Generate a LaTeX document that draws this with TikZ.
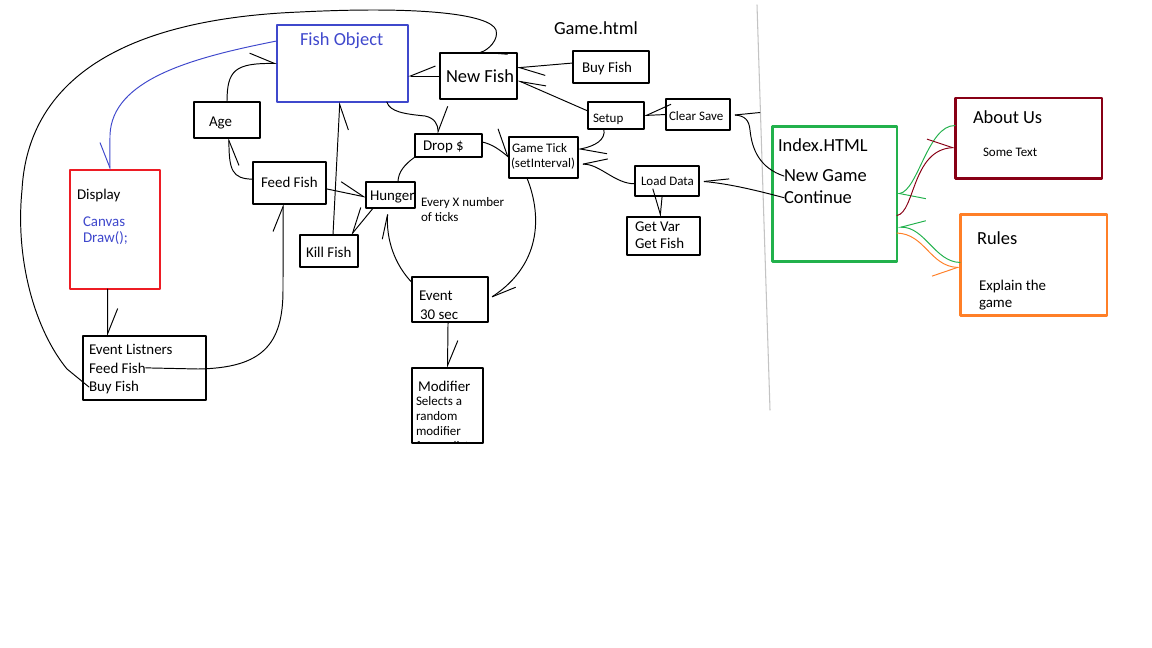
\documentclass[tikz,border=0pt]{standalone}
\usepackage{fontspec}
\setmainfont{Carlito}
\usetikzlibrary{arrows.meta}

\definecolor{paintblue}{RGB}{63,72,204}
\definecolor{paintred}{RGB}{237,28,36}
\definecolor{paintgreen}{RGB}{34,177,76}
\definecolor{paintmaroon}{RGB}{136,0,21}
\definecolor{paintorange}{RGB}{255,127,39}
\definecolor{paintgrey}{RGB}{195,195,195}

\newcommand{\sizeL}{\fontsize{10.5}{12}\selectfont}
\newcommand{\sizeM}{\fontsize{8.5}{10}\selectfont}
\newcommand{\sizeS}{\fontsize{7.4}{9}\selectfont}

\tikzset{
  box/.style={draw, rectangle, inner sep=0pt, outer sep=0pt, line width=0.6pt},
  thickbox/.style={box, line width=1.7pt},
  txt/.style={anchor=base west, inner sep=0pt, outer sep=0pt},
  wire/.style={line width=0.55pt},
  hand/.style={wire, -{Straight Barb[harpoon, length=0.5cm, width=#1]}},
  hand/.default=0.4cm,
  handr/.style={wire, -{Straight Barb[harpoon, swap, length=0.5cm, width=#1]}},
  handr/.default=0.4cm,
}

\begin{document}
\begin{tikzpicture}[x=0.02cm, y=-0.02cm, line cap=round, line join=round]
		\useasboundingbox (0,0) rectangle (1152,648);
		
		% boxes of Game.html
		\node[box, paintblue, minimum width=2.62cm, minimum height=1.54cm] (fish) at (342.5,63.5) {};
		\node[box, minimum width=1.54cm, minimum height=0.92cm] (newfish) at (478.5,76) {};
		\node[box, minimum width=1.52cm, minimum height=0.64cm] (buyfish) at (611,67) {};
		\node[box, minimum width=1.12cm, minimum height=0.54cm] (setup) at (616,115.5) {};
		\node[box, minimum width=1.28cm, minimum height=0.62cm] (clearsave) at (698,114.5) {};
		\node[box, minimum width=1.32cm, minimum height=0.72cm] (age) at (227,120) {};
		\node[box, minimum width=1.34cm, minimum height=0.46cm] (drop) at (448.5,145.5) {};
		\node[box, minimum width=1.38cm, minimum height=0.82cm] (tick) at (543.5,157.5) {};
		\node[box, minimum width=1.28cm, minimum height=0.60cm] (load) at (667,181) {};
		\node[box, minimum width=1.46cm, minimum height=0.76cm] (getvar) at (663.5,236) {};
		\node[box, minimum width=1.46cm, minimum height=0.84cm] (feed) at (289.5,183) {};
		\node[box, minimum width=0.98cm, minimum height=0.52cm] (hunger) at (390.5,195) {};
		\node[box, minimum width=1.16cm, minimum height=0.64cm] (kill) at (329,251) {};
		\node[box, minimum width=1.52cm, minimum height=0.90cm] (event) at (450,299.5) {};
		\node[box, minimum width=1.42cm, minimum height=1.50cm] (modifier) at (447.5,405.5) {};
		\node[box, paintred, minimum width=1.80cm, minimum height=2.38cm] (display) at (115,229.5) {};
		\node[box, minimum width=2.46cm, minimum height=1.28cm] (listen) at (144.5,368) {};
		
		% boxes of Index.HTML
		\node[thickbox, paintgreen, minimum width=2.50cm, minimum height=2.72cm] (index) at (834.5,194) {};
		\node[thickbox, paintmaroon, minimum width=2.94cm, minimum height=1.62cm] (about) at (1028.5,138.5) {};
		\node[thickbox, paintorange, minimum width=2.94cm, minimum height=2.04cm] (rules) at (1033.5,265) {};
		
		% texts
		\node[txt, font=\sizeL] (tgame) at (554,35) {Game.html};
		\node[txt, font=\sizeL, text=paintblue] (tfish) at (300,46) {Fish Object};
		\node[txt, font=\sizeL] (tnew) at (446,83) {New Fish};
		\node[txt, font=\sizeM] (tbuy) at (582,73) {Buy Fish};
		\node[txt, font=\sizeS] (tsetup) at (593,123) {Setup};
		\node[txt, font=\sizeS] (tclear) at (669,121) {Clear Save};
		\node[txt, font=\sizeM] (tage) at (209,127) {Age};
		\node[txt, font=\sizeM] (tdrop) at (423,151) {Drop \$};
		\node[txt, font=\sizeS] (ttick) at (512,153) {Game Tick};
		\node[txt, font=\sizeS] (tinterval) at (511,168) {(setInterval)};
		\node[txt, font=\sizeS] (tload) at (641,186) {Load Data};
		\node[txt, font=\sizeM] (tvar) at (635,232) {Get Var};
		\node[txt, font=\sizeM] (tgetfish) at (635,249) {Get Fish};
		\node[txt, font=\sizeM] (tfeed) at (261,188) {Feed Fish};
		\node[txt, font=\sizeM] (thunger) at (370,201) {Hunger};
		\node[txt, font=\sizeM] (tkill) at (306,258) {Kill Fish};
		\node[txt, font=\sizeS] (tevery) at (421,207) {Every X number};
		\node[txt, font=\sizeS] (tticks) at (421,222) {of ticks};
		\node[txt, font=\sizeM] (tevent) at (419,301) {Event};
		\node[txt, font=\sizeM] (tsec) at (420,319) {30 sec};
		\node[txt, font=\sizeM] (tmod) at (418,391) {Modifier};
		\node[txt, font=\sizeS] (tsel) at (416,405) {Selects a};
		\node[txt, font=\sizeS] (trandom) at (416,420) {random};
		\node[txt, font=\sizeS] (tmodifier) at (416,435) {modifier};
		\begin{scope}
			\clip (412,368) rectangle (483,443);
			\node[txt, font=\sizeS] (tfrom) at (416,450) {from a list};
		\end{scope}
		\node[txt, font=\sizeM] (tdisplay) at (77,200) {Display};
		\node[txt, font=\sizeM, text=paintblue] (tcanvas) at (83,227) {Canvas};
		\node[txt, font=\sizeM, text=paintblue] (tdraw) at (83,243) {Draw();};
		\node[txt, font=\sizeM] (tlisten) at (89,355) {Event Listners};
		\node[txt, font=\sizeM] (lfeed) at (89,373) {Feed Fish};
		\node[txt, font=\sizeM] (lbuy) at (89,391) {Buy Fish};
		\node[txt, font=\sizeL] (tindex) at (778,152) {Index.HTML};
		\node[txt, font=\sizeL] (lnew) at (784,182) {New Game};
		\node[txt, font=\sizeL] (lcont) at (784,204) {Continue};
		\node[txt, font=\sizeL] (tabout) at (973,124) {About Us};
		\node[txt, font=\sizeS] (tsome) at (983,157) {Some Text};
		\node[txt, font=\sizeL] (trules) at (977,245) {Rules};
		\node[txt, font=\sizeM] (texplain) at (979,291) {Explain the};
		\node[txt, font=\sizeM] (tgameword) at (979,308) {game};
		
		% page divider
		\draw[paintgrey, line width=0.6pt] (757,5) -- (770,410);
		
		% connectors
		\draw[hand] (lbuy.west) -- (67,369) .. controls (35,330) and (15,260) .. (22,190) .. controls (27,95) and (100,20) .. (300,12) .. controls (420,6) and (490,14) .. (496,30) .. controls (499,40) and (488,50) .. (newfish.north);
		\draw[handr, paintblue] (fish.161) .. controls (190,58) and (112,80) .. (110,135) -- (display.95);
		\draw[handr] (newfish.west) -- (fish.east |- newfish.west);
		\draw[hand] (buyfish.174) -- (newfish.12);
		\draw[handr=0.25cm] (setup.171) -- (newfish.354);
		\draw[handr] (clearsave.west) -- (setup.east);
		\draw[hand] (setup.228) .. controls (606,140) and (595,146) .. (tick.13);
		\draw[handr=0.2cm] (load.185) .. controls (615,184) and (600,164) .. (tick.349);
		\draw[handr=0.2cm] (lcont.west) .. controls (755,190) and (730,184) .. (load.east);
		\draw[handr=0.2cm] (lnew.west) .. controls (760,168) and (752,150) .. (750,130) .. controls (749,120) and (745,116) .. (clearsave.east);
		\draw[handr] (load.252) -- (getvar.100);
		\draw[hand] (fish.319) .. controls (390,112) and (405,114) .. (425,116) .. controls (435,118) and (438,125) .. (drop.132);
		\draw[hand=0.6cm] (drop.6) .. controls (492,144) and (500,150) .. (tick.west);
		\draw[hand=0.2cm] (tick.231) .. controls (540,210) and (545,262) .. (event.east);
		\draw[hand=0.15cm] (event.156) .. controls (395,265) and (386,240) .. (hunger.259);
		\draw[wire] (drop.south west) .. controls (405,164) and (398,172) .. (hunger.60);
		\draw[hand] (feed.351) -- (hunger.185);
		\draw[handr] (hunger.217) -- (kill.36);
		\draw[handr] (kill.76) -- (fish.266);
		\draw[hand] (age.north) .. controls (227,70) and (235,63) .. (fish.west);
		\draw[handr] (feed.174) .. controls (232,179) and (229,170) .. (age.276);
		\draw[hand] (lfeed.east) -- (198,369) .. controls (262,368) and (283,345) .. (283,290) -- (feed.253);
		\draw[hand] (display.263) -- (listen.139);
		\draw[hand] (event.265) -- (modifier.north);
		
		% links of Index.HTML
		\draw[hand, paintgreen] (about.170) .. controls (928,125) and (918,190) .. (index.east);
		\draw[hand, paintmaroon] (index.341) .. controls (915,212) and (912,150) .. (about.187);
		\draw[handr=0.25cm, paintgreen] (rules.178) .. controls (935,262) and (925,227) .. (index.332);
		\draw[handr, paintorange] (index.328) .. controls (925,234) and (930,266) .. (rules.182);
		
	\end{tikzpicture}
\end{document}
